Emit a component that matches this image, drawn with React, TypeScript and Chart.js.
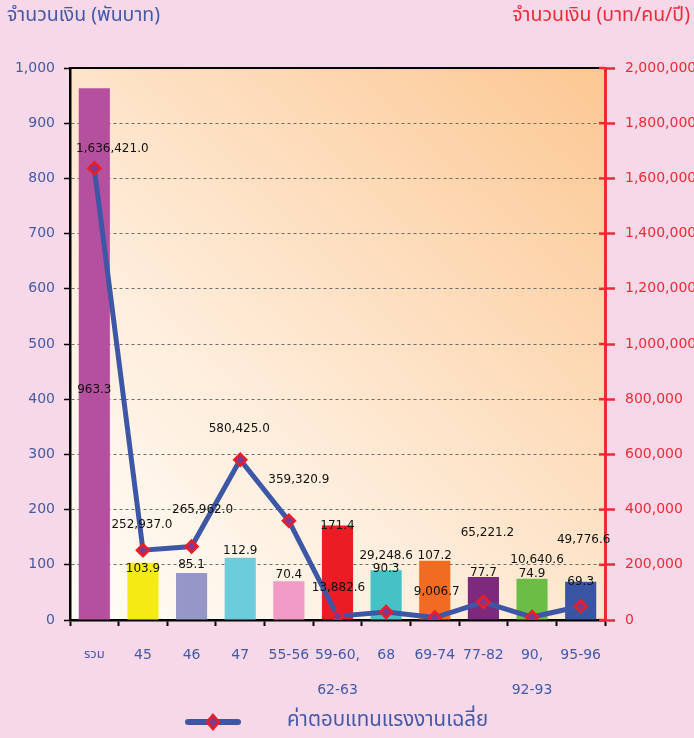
import React, { useEffect, useRef } from 'react';
import { Chart, registerables } from 'chart.js';

Chart.register(...registerables);

// ---- data ----
const categories: (string | string[])[] = ['รวม', '45', '46', '47', '55-56', ['59-60,', '62-63'], '68', '69-74', '77-82', ['90,', '92-93'], '95-96'];
const amountThousandBaht = [963.3, 103.9, 85.1, 112.9, 70.4, 171.4, 90.3, 107.2, 77.7, 74.9, 69.3];
const avgWageBahtPerPerson = [1636421.0, 252937.0, 265962.0, 580425.0, 359320.9, 13882.6, 29248.6, 9006.7, 65221.2, 10640.6, 49776.6];
const barColors = ['#B5509F', '#F5EB14', '#9696C8', '#6CCCDC', '#F29AC6', '#EC1C24', '#46C2C6', '#F26B22', '#7D2A7E', '#6BBD45', '#3A54A4'];
const leftTitle = 'จำนวนเงิน (พันบาท)';
const rightTitle = 'จำนวนเงิน (บาท/คน/ปี)';
const legendLabel = 'ค่าตอบแทนแรงงานเฉลี่ย';

// ---- styles ----
const FONT = "'DejaVu Sans', 'Noto Sans Thai', Tahoma, sans-serif";
const THAI_FONT = "'Noto Sans Thai', Tahoma, 'DejaVu Sans', sans-serif";
const BLUE = '#4259A8';
const RED = '#EE2A35';
const LINE_BLUE = '#3D56A6';
// label placement offsets (pixels, relative to mark)
const barLabelDy = [302, 6, -8, -7, -6, 0, -1, -5, -4, -5, 0];
const lineLabelOffsets: [number, number][] = [
  [18, -19], [-1, -25], [11, -37], [-1, -31], [10, -41], [1, -28], [0, -56], [2, -26], [4, -69], [5, -57], [3, -66],
];

const fmtLine = (v: number) => v.toLocaleString('en-US', { minimumFractionDigits: 1, maximumFractionDigits: 1 });

const decorPlugin = {
  id: 'decor',
  beforeDraw(chart: any) {
    const { ctx, chartArea: a } = chart;
    ctx.save();
    const g = ctx.createLinearGradient(a.left, a.bottom, a.right, a.top);
    g.addColorStop(0, '#FFFDF8');
    g.addColorStop(0.35, '#FEEEDD');
    g.addColorStop(1, '#FCC792');
    ctx.fillStyle = g;
    ctx.fillRect(a.left, a.top, a.right - a.left, a.bottom - a.top);
    ctx.restore();
  },
  afterDatasetsDraw(chart: any) {
    const { ctx } = chart;
    ctx.save();
    ctx.font = `12px ${FONT}`;
    ctx.fillStyle = '#111';
    ctx.textAlign = 'center';
    ctx.textBaseline = 'middle';
    const barMeta = chart.getDatasetMeta(0);
    barMeta.data.forEach((el: any, i: number) => {
      ctx.fillText(amountThousandBaht[i].toFixed(1), el.x, el.y + barLabelDy[i]);
    });
    const lineMeta = chart.getDatasetMeta(1);
    lineMeta.data.forEach((el: any, i: number) => {
      const [dx, dy] = lineLabelOffsets[i];
      ctx.fillText(fmtLine(avgWageBahtPerPerson[i]), el.x + dx, el.y + dy);
    });
    ctx.restore();
  },
  afterDraw(chart: any) {
    const { ctx, chartArea: a } = chart;
    ctx.save();
    // top border
    ctx.strokeStyle = '#000';
    ctx.lineWidth = 2;
    ctx.beginPath();
    ctx.moveTo(a.left, a.top);
    ctx.lineTo(a.right, a.top);
    ctx.stroke();
    // inward parts of right axis ticks
    const y1 = chart.scales.y1;
    ctx.strokeStyle = RED;
    ctx.lineWidth = 2.5;
    y1.ticks.forEach((t: any) => {
      const y = y1.getPixelForValue(t.value);
      ctx.beginPath();
      ctx.moveTo(a.right - 6, y);
      ctx.lineTo(a.right, y);
      ctx.stroke();
    });
    // titles
    ctx.textBaseline = 'middle';
    ctx.font = `19.5px ${THAI_FONT}`;
    ctx.fillStyle = BLUE;
    ctx.textAlign = 'left';
    ctx.fillText(leftTitle, 7, 17);
    ctx.fillStyle = RED;
    ctx.textAlign = 'right';
    ctx.fillText(rightTitle, 690, 17);
    // legend
    const ly = 722;
    ctx.strokeStyle = LINE_BLUE;
    ctx.lineWidth = 6;
    ctx.lineCap = 'round';
    ctx.beginPath();
    ctx.moveTo(188, ly);
    ctx.lineTo(238, ly);
    ctx.stroke();
    ctx.beginPath();
    ctx.moveTo(213, ly - 7);
    ctx.lineTo(219, ly);
    ctx.lineTo(213, ly + 7);
    ctx.lineTo(207, ly);
    ctx.closePath();
    ctx.fillStyle = '#7E3A8E';
    ctx.fill();
    ctx.strokeStyle = '#EE1C25';
    ctx.lineWidth = 2.5;
    ctx.lineCap = 'butt';
    ctx.stroke();
    ctx.font = `20.5px ${THAI_FONT}`;
    ctx.fillStyle = BLUE;
    ctx.textAlign = 'left';
    ctx.fillText(legendLabel, 287, ly);
    ctx.restore();
  },
};

export default function App() {
  const ref = useRef<HTMLCanvasElement>(null);
  useEffect(() => {
    const canvas = ref.current!;
    const chart = new Chart(canvas, {
      type: 'bar',
      data: {
        labels: categories,
        datasets: [
          {
            type: 'bar',
            data: amountThousandBaht,
            backgroundColor: barColors,
            borderWidth: 0,
            barPercentage: 0.64,
            categoryPercentage: 1,
            yAxisID: 'y',
            order: 2,
          } as any,
          {
            type: 'line',
            data: avgWageBahtPerPerson,
            borderColor: LINE_BLUE,
            borderWidth: 5,
            tension: 0,
            pointStyle: 'rectRot',
            pointRadius: 6,
            pointBorderColor: '#EE1C25',
            pointBorderWidth: 2.5,
            pointBackgroundColor: '#7E3A8E',
            yAxisID: 'y1',
            order: 1,
          } as any,
        ],
      },
      options: {
        responsive: false,
        devicePixelRatio: 1,
        animation: false,
        layout: { padding: { top: 68, left: 0, right: 0, bottom: 0 } },
        plugins: { legend: { display: false }, tooltip: { enabled: false } },
        scales: {
          x: {
            offset: true,
            afterFit: (s: any) => { s.height = 118; },
            grid: { offset: true, drawOnChartArea: false, tickLength: 6, tickColor: '#000', tickWidth: 2 },
            border: { color: '#000', width: 2.5 },
            ticks: {
              color: BLUE,
              padding: 11.5,
              maxRotation: 0,
              autoSkip: false,
              font: (c: any) => ({ family: FONT, size: c.index === 0 ? 13 : 14, lineHeight: '35px' }),
            },
          },
          y: {
            position: 'left',
            min: 0,
            max: 1000,
            afterFit: (s: any) => { s.width = 70; },
            grid: {
              color: (c: any) => (c.tick && (c.tick.value === 0 || c.tick.value === 1000) ? 'rgba(0,0,0,0)' : '#6d6d6d'),
              lineWidth: 1,
              tickLength: 6,
              tickColor: '#000',
              tickWidth: 1.5,
            },
            border: { color: '#000', width: 2.5, dash: [3, 3] },
            ticks: { stepSize: 100, color: BLUE, padding: 9, font: { family: FONT, size: 14 } },
          },
          y1: {
            position: 'right',
            min: 0,
            max: 2000000,
            afterFit: (s: any) => { s.width = 89; },
            grid: { drawOnChartArea: false, tickLength: 10, tickColor: RED, tickWidth: 2.5 },
            border: { color: RED, width: 3 },
            ticks: { stepSize: 200000, color: RED, padding: 10, font: { family: FONT, size: 14 } },
          },
        },
      },
      plugins: [decorPlugin],
    } as any);
    return () => chart.destroy();
  }, []);
  return (
    <div style={{ position: 'fixed', left: 0, top: 0, width: 694, height: 738, background: '#F7D8E8', overflow: 'hidden' }}>
      <canvas ref={ref} width={694} height={738} style={{ display: 'block' }} />
    </div>
  );
}
